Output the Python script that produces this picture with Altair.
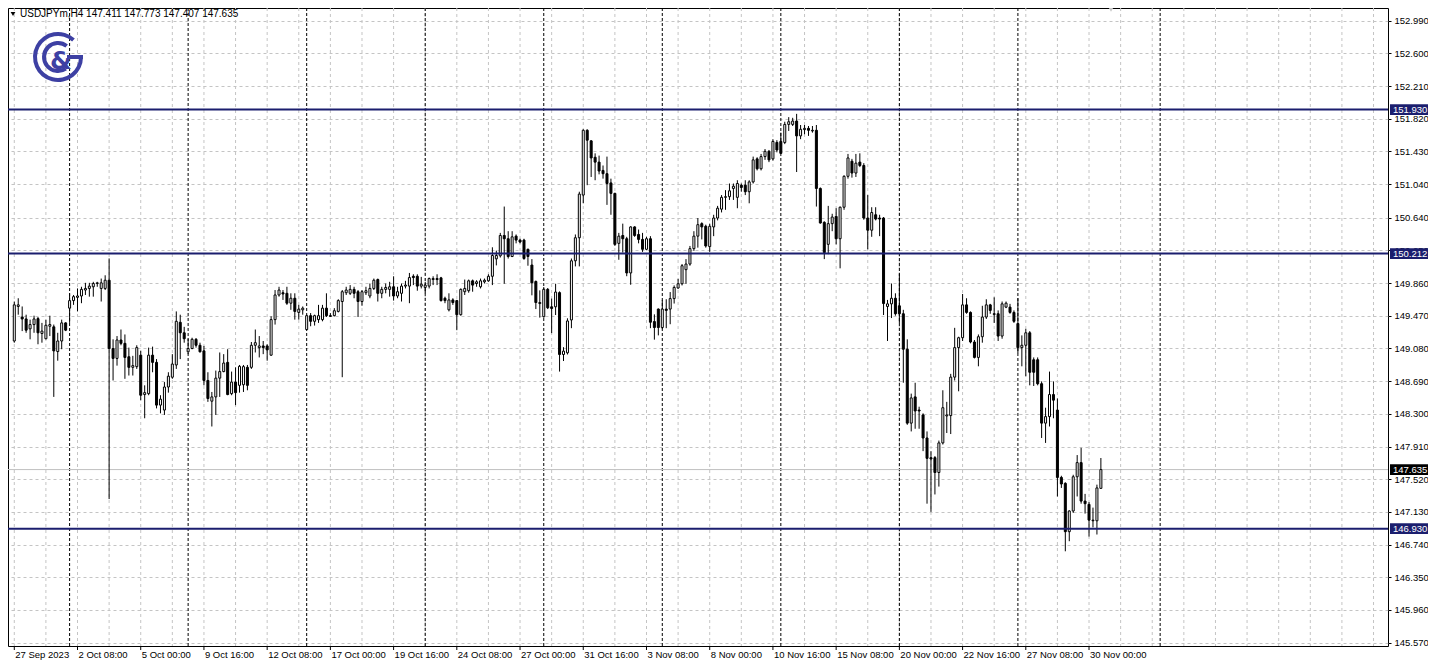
import altair as alt
import pandas as pd

# ---------------- data (H4 candles) ----------------
opens = [
149.169, 149.581, 149.455, 149.432, 149.314, 149.365, 149.436, 149.259, 149.196, 149.345,
149.338, 149.043, 149.169, 149.385, 149.561, 149.651, 149.690, 149.706, 149.777, 149.796,
149.816, 149.855, 149.796, 149.796, 149.894, 149.079, 148.961, 149.181, 149.141, 148.981,
148.855, 148.863, 149.000, 148.530, 148.541, 149.000, 148.914, 148.404, 148.345, 148.620,
148.737, 148.883, 149.392, 149.267, 149.040, 149.079, 149.189, 149.118, 149.051, 148.698,
148.451, 148.502, 148.726, 148.804, 148.914, 148.541, 148.679, 148.640, 148.647, 148.855,
148.855, 149.118,
149.090, 149.110, 149.110, 149.000, 149.424, 149.718, 149.745, 149.738, 149.620, 149.679,
149.510, 149.541, 149.306, 149.471, 149.404, 149.424, 149.424, 149.561, 149.471, 149.471,
149.522, 149.640, 149.745, 149.738, 149.785, 149.757, 149.640, 149.745, 149.706, 149.796,
149.902, 149.738, 149.785, 149.785, 149.816, 149.706, 149.738, 149.824, 149.824, 149.941,
149.941, 149.824, 149.808, 149.824, 149.902, 149.914, 149.922, 149.679, 149.541, 149.659,
149.651, 149.483, 149.757, 149.769, 149.887, 149.855, 149.816, 149.875, 149.887, 149.941,
150.149,
150.185, 150.428, 150.389, 150.177, 150.420, 150.373, 150.373, 150.263, 150.075, 149.879,
149.616, 149.459, 149.785, 149.577, 149.577, 149.746, 149.008, 149.028, 149.420, 150.126,
150.401, 150.910, 151.683, 151.557, 151.361, 151.303, 151.204, 151.165, 151.055, 150.930,
150.334, 150.428, 150.389, 149.981, 150.530, 150.440, 150.381, 150.263, 150.389, 149.401,
149.550, 149.330, 149.550, 149.550, 149.675, 149.801, 149.852, 150.020, 150.087, 150.271,
150.420, 150.569, 150.538, 150.295, 150.530, 150.636, 150.742, 150.883, 150.891,
150.989, 150.883, 151.028, 151.028, 150.950, 151.067, 151.342, 151.224, 151.369, 151.432,
151.342, 151.538, 151.550, 151.538, 151.753, 151.753, 151.793, 151.616, 151.691, 151.706,
151.675, 151.683, 150.989, 150.585, 150.322, 150.569, 150.655, 150.389, 150.765, 151.134,
151.314, 151.173, 151.303, 151.263, 150.636, 150.491, 150.675, 150.636, 150.636,
149.581, 149.612, 149.679, 149.589, 149.494, 149.071, 148.189, 148.502, 148.345, 148.287,
148.012, 147.777, 147.777, 147.600, 147.953, 148.275, 148.279, 148.738, 149.090, 149.208,
149.600, 149.510, 149.157, 148.973, 149.220, 149.455, 149.600, 149.494, 149.494, 149.228,
149.573, 149.573, 149.510, 149.377, 149.090, 149.118, 149.267, 148.945, 148.945, 148.659,
148.189, 148.267, 148.530, 148.345, 147.541, 147.471, 146.894, 147.141, 147.549, 147.718,
147.259, 147.220, 147.032, 147.024, 147.411,
]
highs = [
149.640, 149.679, 149.581, 149.483, 149.424, 149.471, 149.455, 149.385, 149.424, 149.471,
149.365, 149.267, 149.424, 149.392, 149.738, 149.718, 149.796, 149.816, 149.863, 149.863,
149.875, 149.875, 149.914, 149.953, 150.154, 149.189, 149.228, 149.306, 149.247, 149.090,
148.992, 149.118, 149.051, 148.640, 149.090, 149.102, 148.953, 148.522, 148.679, 148.796,
149.012, 149.522, 149.483, 149.338, 149.196, 149.208, 149.204, 149.149, 149.110, 148.796,
148.561, 148.816, 149.032, 149.012, 149.071, 148.804, 148.855, 148.883, 148.883, 148.883,
149.157, 149.306,
149.228, 149.169, 149.130, 149.463, 149.777, 149.816, 149.777, 149.816, 149.738, 149.738,
149.600, 149.581, 149.483, 149.502, 149.483, 149.600, 149.600, 149.738, 149.502, 149.561,
149.667, 149.777, 149.816, 149.836, 149.816, 149.777, 149.777, 149.816, 149.855, 149.914,
149.914, 149.816, 149.855, 149.875, 149.941, 149.816, 149.855, 149.887, 149.981, 149.965,
149.965, 149.934, 149.875, 149.926, 149.941, 149.965, 149.934, 149.698, 149.738, 149.679,
149.659, 149.796, 149.902, 149.902, 149.902, 149.894, 149.914, 149.914, 149.965, 150.287,
150.247,
150.459, 150.773, 150.479, 150.479, 150.440, 150.389, 150.389, 150.271, 150.146, 149.891,
149.773, 149.812, 149.801, 149.675, 149.852, 149.761, 149.095, 149.440, 150.153, 150.440,
150.950, 151.695, 151.695, 151.565, 151.408, 151.381, 151.263, 151.369, 151.106, 150.938,
150.459, 150.569, 150.412, 150.538, 150.538, 150.499, 150.459, 150.412, 150.420, 149.487,
149.557, 149.655, 149.667, 149.753, 149.832, 149.910, 150.087, 150.146, 150.303, 150.479,
150.636, 150.585, 150.557, 150.569, 150.675, 150.781, 150.910, 150.969, 151.048,
151.048, 151.087, 151.048, 151.087, 151.087, 151.369, 151.361, 151.401, 151.459, 151.448,
151.577, 151.565, 151.655, 151.785, 151.840, 151.832, 151.879, 151.746, 151.746, 151.734,
151.734, 151.746, 151.001, 150.597, 150.781, 150.687, 150.753, 150.773, 151.146, 151.401,
151.342, 151.401, 151.408, 151.291, 150.910, 150.765, 150.765, 150.675, 150.648,
149.659, 149.855, 149.738, 149.973, 149.541, 149.189, 148.541, 148.671, 148.385, 148.306,
148.090, 147.855, 147.796, 147.981, 148.581, 148.443, 148.777, 149.326, 149.220, 149.730,
149.679, 149.522, 149.181, 149.247, 149.589, 149.667, 149.612, 149.690, 149.534, 149.640,
149.640, 149.612, 149.534, 149.679, 149.236, 149.314, 149.287, 148.973, 148.973, 148.687,
148.373, 148.804, 148.687, 148.483, 147.561, 147.483, 147.149, 147.573, 147.808, 147.894,
147.345, 147.247, 147.181, 147.455, 147.773,
]
lows = [
149.149, 149.483, 149.287, 149.267, 149.189, 149.267, 149.130, 149.149, 149.189, 149.228,
148.502, 148.934, 149.071, 149.287, 149.385, 149.600, 149.522, 149.620, 149.718, 149.698,
149.698, 149.816, 149.640, 149.777, 147.283, 148.698, 148.875, 149.118, 148.718, 148.757,
148.757, 148.836, 148.463, 148.247, 148.522, 148.796, 148.365, 148.306, 148.287, 148.553,
148.718, 148.836, 148.953, 149.149, 149.012, 149.071, 149.090, 149.032, 148.640, 148.443,
148.149, 148.287, 148.502, 148.796, 148.522, 148.522, 148.404, 148.553, 148.561, 148.581,
148.836, 149.032,
148.973, 149.012, 148.934, 148.992, 149.365, 149.698, 149.659, 149.600, 149.541, 149.424,
149.424, 149.483, 149.298, 149.345, 149.353, 149.385, 149.404, 149.455, 149.455, 149.463,
149.510, 148.737, 149.718, 149.718, 149.679, 149.455, 149.589, 149.718, 149.679, 149.777,
149.640, 149.679, 149.738, 149.698, 149.651, 149.679, 149.640, 149.796, 149.620, 149.836,
149.769, 149.796, 149.738, 149.796, 149.836, 149.836, 149.640, 149.620, 149.522, 149.600,
149.298, 149.471, 149.718, 149.745, 149.757, 149.816, 149.796, 149.855, 149.875, 149.836,
150.071,
150.165, 149.852, 150.153, 150.170, 150.334, 150.334, 150.138, 150.067, 149.714, 149.550,
149.448, 149.448, 149.550, 149.263, 149.479, 148.804, 148.930, 149.008, 149.322, 150.059,
150.059, 150.812, 151.028, 151.126, 151.087, 151.157, 151.106, 150.793, 150.675, 150.303,
150.138, 150.224, 149.942, 149.840, 150.412, 150.334, 150.232, 150.255, 149.322, 149.185,
149.236, 149.314, 149.322, 149.369, 149.616, 149.793, 149.832, 149.852, 150.067, 150.244,
150.283, 150.381, 150.283, 150.232, 150.420, 150.608, 150.703, 150.734, 150.852,
150.852, 150.753, 150.950, 150.910, 150.812, 151.048, 151.204, 151.204, 151.330, 151.303,
151.322, 151.420, 151.401, 151.518, 151.675, 151.734, 151.185, 151.577, 151.636, 151.616,
151.655, 150.773, 150.569, 150.146, 150.205, 150.479, 150.322, 150.036, 150.734, 151.106,
151.118, 151.126, 151.244, 150.616, 150.263, 150.412, 150.608, 150.420, 149.479,
149.169, 149.443, 149.471, 149.385, 148.671, 148.169, 148.090, 148.122, 148.122, 147.855,
147.228, 147.130, 147.338, 147.432, 147.934, 148.071, 148.059, 148.698, 148.569, 149.169,
149.494, 149.141, 148.961, 148.867, 149.149, 149.432, 149.494, 149.385, 149.169, 149.196,
149.561, 149.494, 149.385, 149.024, 148.867, 148.749, 148.640, 148.632, 148.640, 148.012,
147.953, 148.149, 148.247, 147.314, 147.416, 146.660, 146.780, 147.118, 147.314, 147.228,
147.110, 146.836, 146.945, 146.860, 147.407,
]
closes = [
149.600, 149.600, 149.432, 149.298, 149.365, 149.432, 149.267, 149.287, 149.357, 149.365,
149.051, 149.169, 149.385, 149.298, 149.651, 149.698, 149.706, 149.785, 149.796, 149.824,
149.855, 149.863, 149.863, 149.894, 149.079, 148.961, 149.181, 149.141, 148.973, 148.855,
148.875, 149.090, 148.522, 148.553, 149.000, 148.914, 148.404, 148.475, 148.620, 148.749,
148.894, 149.404, 149.267, 149.196, 149.079, 149.189, 149.118, 149.040, 148.698, 148.483,
148.502, 148.726, 148.804, 148.906, 148.530, 148.679, 148.553, 148.867, 148.863, 148.640,
149.118, 149.149,
149.110, 149.090, 149.063, 149.424, 149.718, 149.777, 149.730, 149.620, 149.679, 149.522,
149.549, 149.561, 149.471, 149.404, 149.471, 149.471, 149.561, 149.471, 149.463, 149.530,
149.651, 149.757, 149.777, 149.785, 149.738, 149.640, 149.757, 149.769, 149.796, 149.894,
149.738, 149.785, 149.808, 149.816, 149.706, 149.757, 149.824, 149.836, 149.926, 149.926,
149.824, 149.847, 149.836, 149.914, 149.914, 149.902, 149.651, 149.651, 149.659, 149.628,
149.483, 149.785, 149.796, 149.887, 149.836, 149.875, 149.887, 149.894, 149.941, 150.189,
150.189,
150.428, 150.389, 150.177, 150.412, 150.373, 150.350, 150.153, 150.177, 149.863, 149.628,
149.628, 149.785, 149.565, 149.557, 149.753, 149.008, 149.048, 149.408, 150.126, 150.401,
150.922, 151.683, 151.565, 151.353, 151.303, 151.197, 151.165, 151.048, 150.930, 150.322,
150.420, 150.389, 149.981, 150.530, 150.428, 150.381, 150.263, 150.389, 149.393, 149.330,
149.330, 149.550, 149.534, 149.675, 149.808, 149.852, 150.067, 150.087, 150.271, 150.420,
150.557, 150.530, 150.303, 150.538, 150.636, 150.753, 150.883, 150.891, 150.961,
151.016, 151.048, 151.001, 150.950, 151.067, 151.330, 151.224, 151.369, 151.432, 151.330,
151.550, 151.448, 151.408, 151.753, 151.785, 151.793, 151.616, 151.695, 151.706, 151.683,
151.683, 150.989, 150.577, 150.224, 150.569, 150.648, 150.389, 150.765, 151.134, 151.353,
151.173, 151.291, 151.263, 150.636, 150.491, 150.702, 150.624, 150.624, 149.616,
149.612, 149.679, 149.494, 149.494, 149.071, 148.189, 148.490, 148.334, 148.334, 148.012,
147.769, 147.761, 147.600, 147.953, 148.373, 148.287, 148.738, 149.090, 149.208, 149.600,
149.510, 149.157, 148.973, 149.220, 149.455, 149.600, 149.534, 149.487, 149.228, 149.612,
149.620, 149.510, 149.404, 149.090, 149.118, 149.267, 148.796, 148.796, 148.659, 148.189,
148.267, 148.530, 148.463, 147.541, 147.463, 146.894, 147.141, 147.549, 147.718, 147.259,
147.228, 147.032, 147.024, 147.416, 147.635,
]
bar_index = list(range(1, len(opens) + 1))

# axis / annotation content
x_label_bars = [1, 17, 33, 49, 65, 81, 97, 113, 129, 145, 161, 177, 193, 209, 225, 241, 257, 273]
x_labels = ["27 Sep 2023", "2 Oct 08:00", "5 Oct 00:00", "9 Oct 16:00", "12 Oct 08:00",
            "17 Oct 00:00", "19 Oct 16:00", "24 Oct 08:00", "27 Oct 00:00", "31 Oct 16:00",
            "3 Nov 08:00", "8 Nov 00:00", "10 Nov 16:00", "15 Nov 08:00", "20 Nov 00:00",
            "22 Nov 16:00", "27 Nov 08:00", "30 Nov 00:00"]
grid_bars = list(range(1, 347, 8))
separator_bars = [15, 45, 75, 105, 135, 165, 195, 225, 255, 291]
y_ticks = [145.570, 145.960, 146.350, 146.740, 147.130, 147.520, 147.910, 148.300, 148.690,
           149.080, 149.470, 149.860, 150.250, 150.640, 151.040, 151.430, 151.820, 152.210,
           152.600, 152.990]
levels = [151.930, 150.212, 146.930]
last_price = closes[-1]
symbol_text = "USDJPYm,H4  %.3f %.3f %.3f %.3f" % (opens[-1], highs[-1], lows[-1], closes[-1])

# ---------------- styling ----------------
W, H = 1380, 638
FONT = "Liberation Sans"
FS = 9.5
NAVY = "#1b1e6e"
LOGO = "#3d40a3"
GRID = "#c4c4c4"

xscale = alt.Scale(domain=[0.675, 347.4], nice=False, zero=False)
yscale = alt.Scale(domain=[145.530, 153.142], nice=False, zero=False)
yaxis = alt.Axis(orient="right", values=y_ticks, format=".3f", title=None, grid=True,
                 gridColor=GRID, gridDash=[3, 3], gridWidth=1, domain=False, ticks=True,
                 tickSize=3, tickColor="black", labelPadding=3, labelFont=FONT,
                 labelFontSize=FS, labelColor="black", labelOverlap=False, zindex=0)

candles = pd.DataFrame({"k": bar_index, "open": opens, "high": highs,
                        "low": lows, "close": closes})
X = alt.X("k:Q", scale=xscale, axis=None)

vgrid = alt.Chart(pd.DataFrame({"k": grid_bars})).mark_rule(
    color=GRID, strokeDash=[3, 3], strokeWidth=1).encode(x=X)
seps = alt.Chart(pd.DataFrame({"k": separator_bars})).mark_rule(
    color="black", strokeDash=[3, 2], strokeWidth=1).encode(x=X)
price_line = alt.Chart(pd.DataFrame({"p": [last_price]})).mark_rule(
    color="#c0c0c0", strokeWidth=1).encode(y=alt.Y("p:Q", scale=yscale, axis=yaxis))

wicks = alt.Chart(candles).mark_rule(color="black", strokeWidth=1).encode(
    x=X, y=alt.Y("low:Q", scale=yscale, axis=yaxis), y2="high:Q")
bodies = alt.Chart(candles).mark_bar(size=2, stroke="black", strokeWidth=1).encode(
    x=X, y=alt.Y("open:Q", scale=yscale, axis=yaxis), y2="close:Q",
    fill=alt.condition("datum.close >= datum.open", alt.value("white"), alt.value("black")))

lev_df = pd.DataFrame({"p": levels})
level_lines = alt.Chart(lev_df).mark_rule(color=NAVY, strokeWidth=2).encode(
    y=alt.Y("p:Q", scale=yscale, axis=yaxis))

box_path = "M-1,-0.28L1,-0.28L1,0.28L-1,0.28Z"
level_boxes = alt.Chart(lev_df).mark_point(shape=box_path, size=38 * 38, filled=True,
                                            color=NAVY, opacity=1).encode(
    x=alt.value(W + 21), y=alt.Y("p:Q", scale=yscale, axis=yaxis))
level_text = alt.Chart(lev_df).mark_text(align="left", baseline="middle", color="white",
                                         font=FONT, fontSize=FS).encode(
    x=alt.value(W + 5), y=alt.Y("p:Q", scale=yscale, axis=yaxis),
    text=alt.Text("p:Q", format=".3f"))
last_df = pd.DataFrame({"p": [last_price]})
last_box = alt.Chart(last_df).mark_point(shape=box_path, size=38 * 38, filled=True,
                                         color="black", opacity=1).encode(
    x=alt.value(W + 21), y=alt.Y("p:Q", scale=yscale, axis=yaxis))
last_text = alt.Chart(last_df).mark_text(align="left", baseline="middle", color="white",
                                         font=FONT, fontSize=FS).encode(
    x=alt.value(W + 5), y=alt.Y("p:Q", scale=yscale, axis=yaxis),
    text=alt.Text("p:Q", format=".3f"))

xl_df = pd.DataFrame({"k": x_label_bars, "label": x_labels})
x_ticks = alt.Chart(xl_df).mark_rule(color="black").encode(
    x=X, y=alt.value(H), y2=alt.value(H + 4))
x_text = alt.Chart(xl_df).mark_text(align="left", baseline="middle", dx=1, font=FONT,
                                    fontSize=FS, color="black").encode(
    x=X, y=alt.value(H + 9), text="label:N")

# header & logo
one = pd.DataFrame({"a": [0]})
tri = alt.Chart(one).mark_point(shape="triangle-down", filled=True, color="black",
                                opacity=1, size=22).encode(x=alt.value(5), y=alt.value(6))
header = alt.Chart(one).mark_text(align="left", baseline="middle", font=FONT, fontSize=10,
                                  color="black").encode(
    x=alt.value(12), y=alt.value(6), text=alt.value(symbol_text))
shift_marker = alt.Chart(one).mark_point(shape="triangle-down", filled=True, color="#c8c8c8",
                                         opacity=1, size=40).encode(
    x=alt.value(1103), y=alt.value(1))

cx, cy = 50, 49
outer = alt.Chart(one).mark_arc(theta=1.5708, theta2=7.02, radius=25, radius2=21,
                                color=LOGO).encode(x=alt.value(cx), y=alt.value(cy))
inner = alt.Chart(one).mark_arc(theta=2.55, theta2=6.95, radius=16, radius2=12,
                                color=LOGO).encode(x=alt.value(cx), y=alt.value(cy))
gbar = alt.Chart(one).mark_rule(color=LOGO, strokeWidth=4).encode(
    x=alt.value(cx + 9), x2=alt.value(cx + 25), y=alt.value(cy))
amp = alt.Chart(one).mark_text(text="&", font="DejaVu Sans", fontSize=25, fontWeight="bold",
                               color=LOGO, baseline="middle", align="center").encode(
    x=alt.value(cx + 3), y=alt.value(cy + 4))

chart = alt.layer(
    vgrid, seps, price_line, wicks, bodies, level_lines, level_boxes, level_text,
    last_box, last_text, x_ticks, x_text, tri, header, shift_marker,
    outer, inner, gbar, amp
).properties(
    width=W, height=H,
    padding={"left": 0, "top": 0, "right": 40, "bottom": 14},
    autosize=alt.AutoSizeParams(type="none"),
    background="white"
).configure_view(stroke="black", strokeWidth=1)

chart.save("out.html", embed_options={"renderer": "svg", "actions": False})
